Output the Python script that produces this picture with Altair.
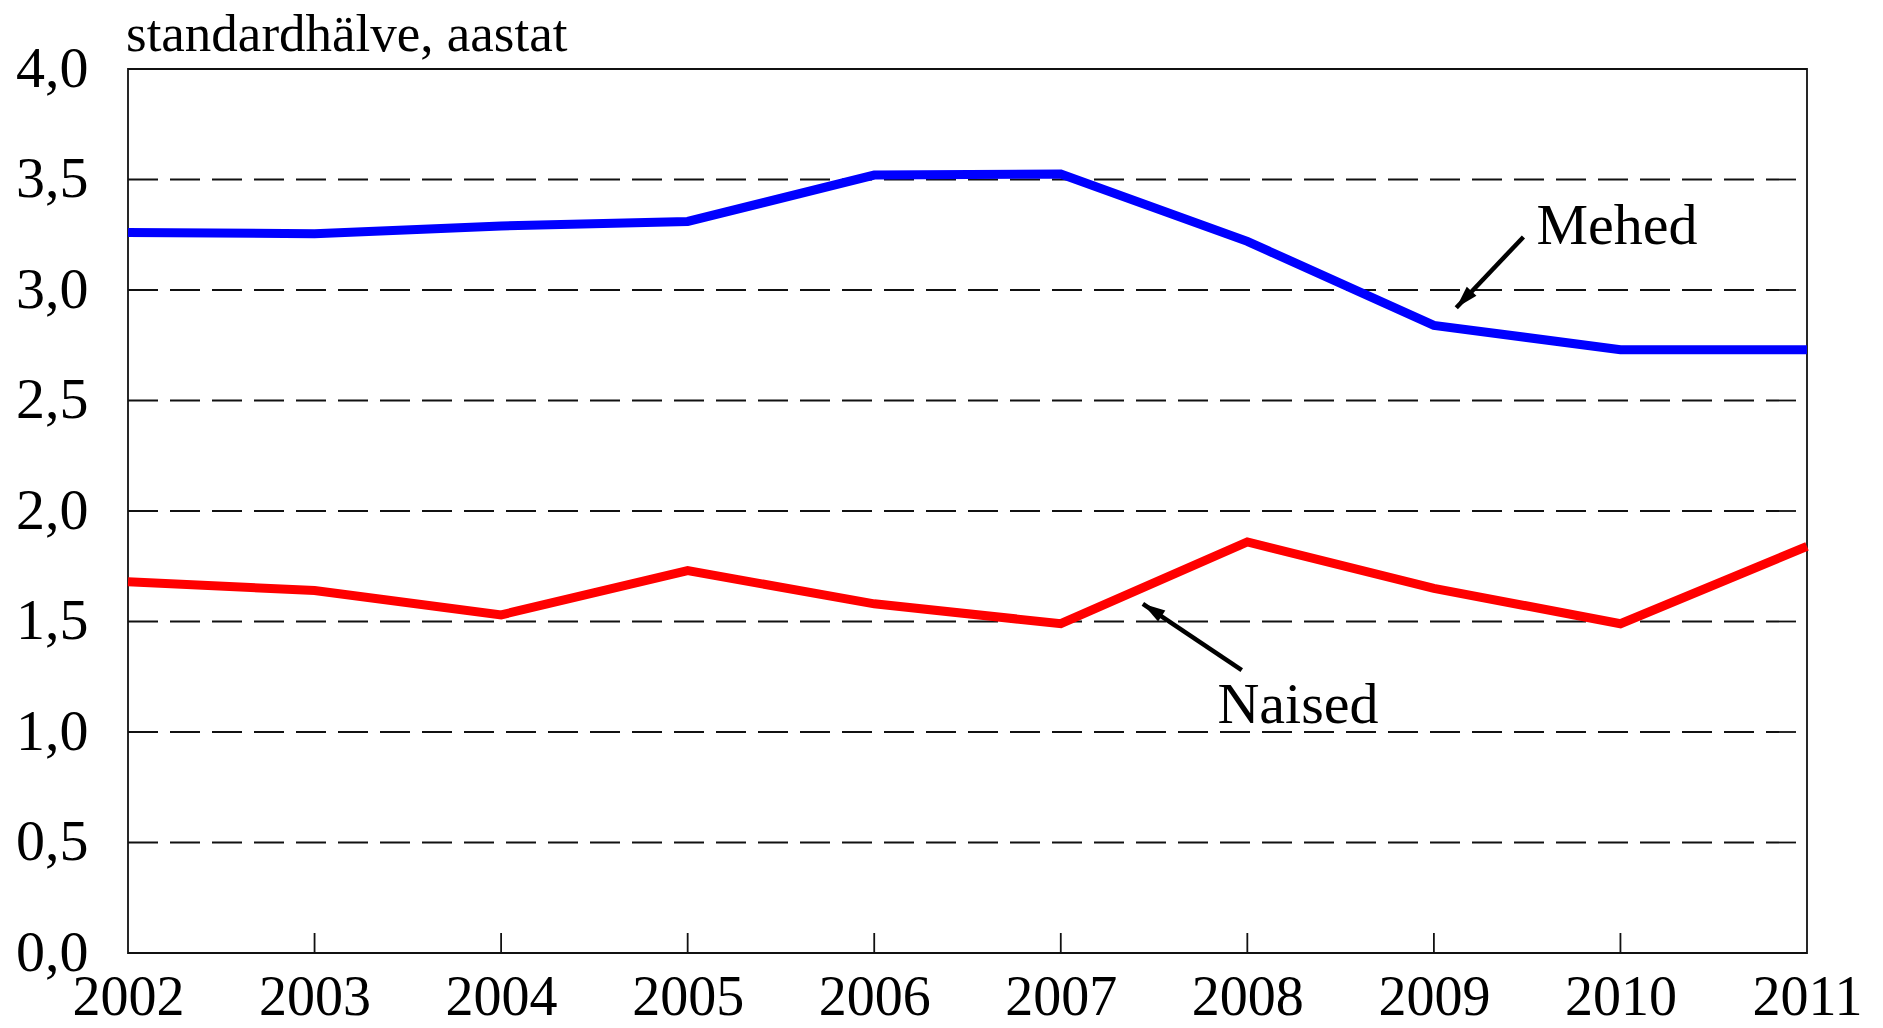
import altair as alt
import pandas as pd

# ---- data ----
years = list(range(2002, 2012))
mehed = [3.26, 3.255, 3.29, 3.31, 3.52, 3.525, 3.22, 2.84, 2.73, 2.73]
naised = [1.68, 1.64, 1.53, 1.73, 1.58, 1.49, 1.86, 1.65, 1.49, 1.84]
series_names = ["Mehed", "Naised"]
series_colors = ["#0000ff", "#ff0000"]
y_ticks = [0.0, 0.5, 1.0, 1.5, 2.0, 2.5, 3.0, 3.5, 4.0]
grid_values = [0.5, 1.0, 1.5, 2.0, 2.5, 3.0, 3.5]
inner_tick_years = years[1:-1]
title_text = "standardhälve, aastat"

# annotation labels (data coordinates)
label_text = ["Mehed", "Naised"]
label_x = [2009.55, 2007.84]
label_y = [3.21, 1.04]
# arrows: tail -> tip (data coordinates)
arrow_x = [2009.48, 2007.97]
arrow_y = [3.24, 1.28]
arrow_x2 = [2009.12, 2007.44]
arrow_y2 = [2.92, 1.58]
arrow_angle = [223, 303]

FONT = "Liberation Serif"
W, H = 1679, 884

df = pd.DataFrame({
    "year": years * 2,
    "value": mehed + naised,
    "series": [series_names[0]] * len(years) + [series_names[1]] * len(years),
})
ticks_df = pd.DataFrame({"year": inner_tick_years})
grid_df = pd.DataFrame({"v": grid_values})
labels_df = pd.DataFrame({"text": label_text, "x": label_x, "y": label_y})
arrows_df = pd.DataFrame({"x": arrow_x, "y": arrow_y, "x2": arrow_x2,
                          "y2": arrow_y2, "angle": arrow_angle})
title_df = pd.DataFrame({"t": [title_text]})

xscale = alt.Scale(domain=[2002, 2011], nice=False, zero=False)
yscale = alt.Scale(domain=[0, 4], nice=False)

x_axis = alt.Axis(values=years, format="d", title=None, grid=False, ticks=False,
                  domain=False, labelFont=FONT, labelFontSize=56, labelColor="black",
                  labelPadding=17, labelFlush=False, labelOverlap=False)
y_axis = alt.Axis(values=y_ticks, title=None, grid=False, ticks=False, domain=False,
                  labelFont=FONT, labelFontSize=58, labelColor="black",
                  labelPadding=40, labelExpr="replace(format(datum.value, '.1f'), '.', ',')")

grid = alt.Chart(grid_df).mark_rule(color="#111111", strokeWidth=1.8,
                                    strokeDash=[30, 12]).encode(
    y=alt.Y("v:Q", scale=yscale),
    x=alt.value(0),
    x2=alt.value(W),
)

lines = alt.Chart(df).mark_line(strokeWidth=9, strokeJoin="miter").encode(
    x=alt.X("year:Q", scale=xscale, axis=x_axis),
    y=alt.Y("value:Q", scale=yscale, axis=y_axis),
    color=alt.Color("series:N", scale=alt.Scale(domain=series_names, range=series_colors),
                    legend=None),
)

ticks = alt.Chart(ticks_df).mark_rule(color="#111111", strokeWidth=1.8).encode(
    x=alt.X("year:Q", scale=xscale),
    y=alt.value(H),
    y2=alt.value(H - 20),
)

labels = alt.Chart(labels_df).mark_text(font=FONT, fontSize=58, align="left",
                                        baseline="alphabetic", color="black").encode(
    x=alt.X("x:Q", scale=xscale),
    y=alt.Y("y:Q", scale=yscale),
    text="text:N",
)

arrow_lines = alt.Chart(arrows_df).mark_rule(color="black", strokeWidth=4.5).encode(
    x=alt.X("x:Q", scale=xscale),
    y=alt.Y("y:Q", scale=yscale),
    x2="x2:Q",
    y2="y2:Q",
)

arrow_heads = alt.Chart(arrows_df).mark_point(
    shape="M0,0L0.5,1.7L-0.5,1.7Z", filled=True, color="black", opacity=1, size=700
).encode(
    x=alt.X("x2:Q", scale=xscale),
    y=alt.Y("y2:Q", scale=yscale),
    angle=alt.Angle("angle:Q", scale=None),
)

title = alt.Chart(title_df).mark_text(font=FONT, fontSize=53, align="left",
                                      baseline="top", color="black").encode(
    x=alt.value(-2),
    y=alt.value(-60),
    text="t:N",
)

chart = alt.layer(grid, lines, ticks, arrow_lines, arrow_heads, labels, title).properties(
    width=W, height=H,
    autosize=alt.AutoSizeParams(type="none"),
    padding={"left": 120, "top": 61, "right": 60, "bottom": 75},
).configure(
    background="white",
    view=alt.ViewConfig(stroke="#111111", strokeWidth=1.8),
)

chart.save("out.html", embed_options={"renderer": "svg", "actions": False})
